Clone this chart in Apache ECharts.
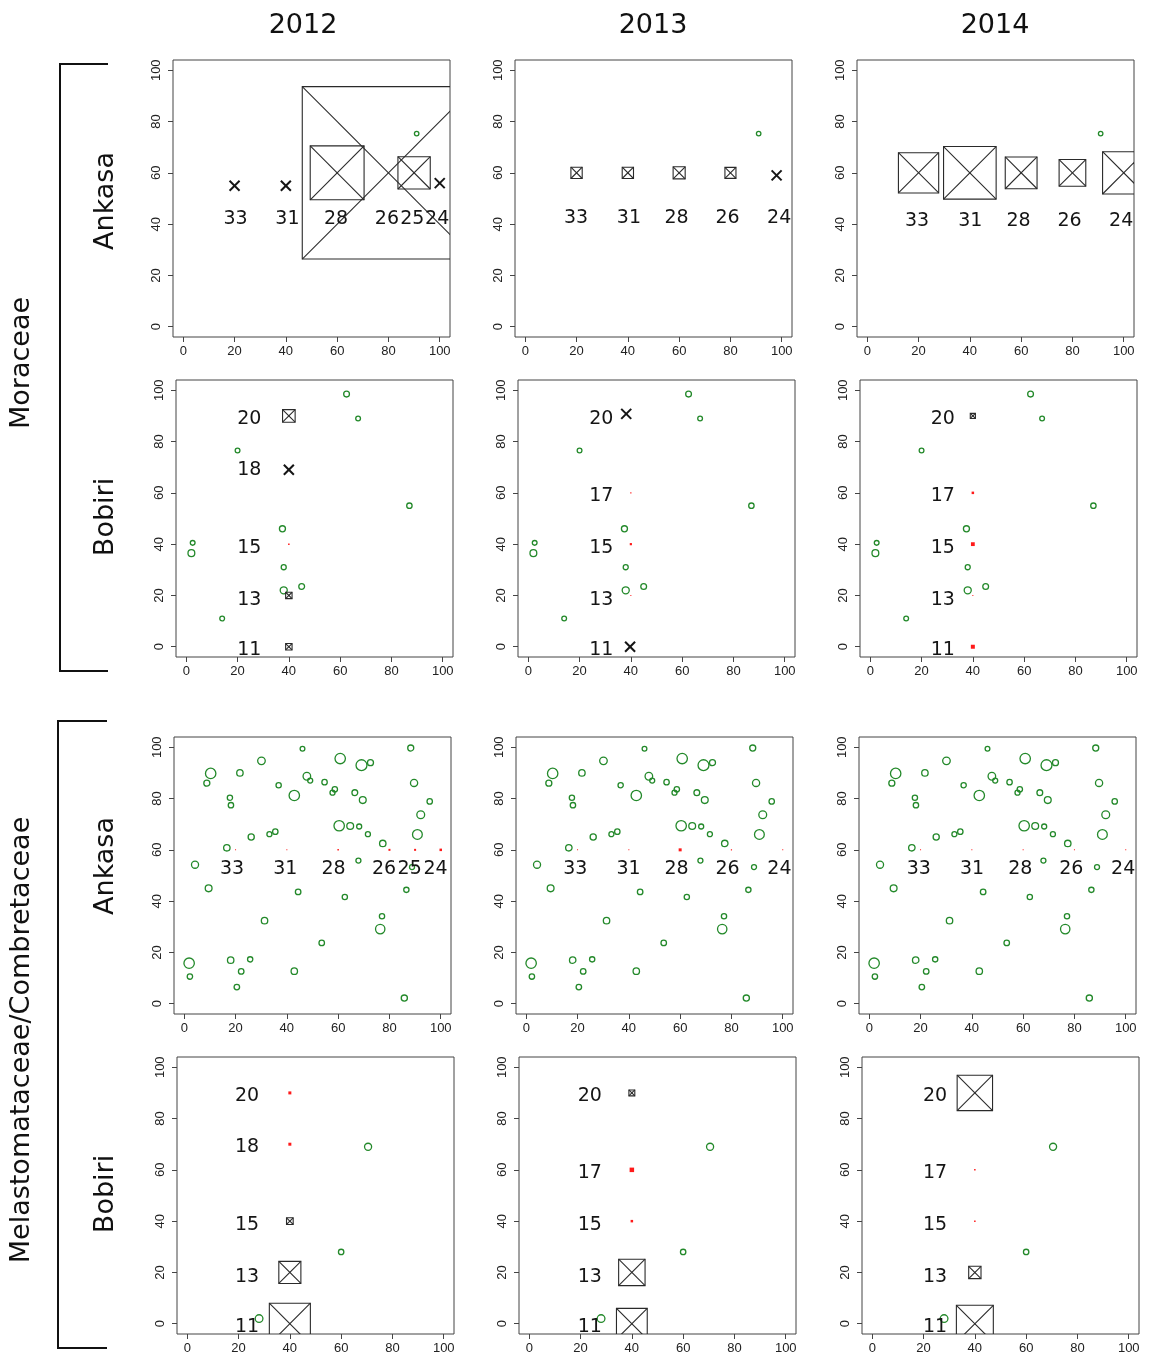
<!DOCTYPE html>
<html>
<head>
<meta charset="utf-8">
<script src="https://cdn.jsdelivr.net/npm/echarts/dist/echarts.min.js"></script>
<style>
html,body{margin:0;padding:0;background:#fff;}
#chart{width:1149px;height:1358px;}
</style>
</head>
<body>
<div id="chart"></div>
<script>
// ---------------- DATA ----------------
const years = ['2012', '2013', '2014'];
const siteNames = ['Ankasa', 'Bobiri', 'Ankasa', 'Bobiri'];
const families = ['Moraceae', 'Melastomataceae/Combretaceae'];
const tickValues = [0, 20, 40, 60, 80, 100];

// adult trees: [x, y, diameter (plot units)]
const moraAnkasaTrees = [[91, 75.3, 1.6]];
const moraBobiriTrees = [
  [62.5, 98.5, 2.1], [67, 89, 1.7], [20, 76.5, 1.7], [87, 55, 1.95], [37.5, 46, 2.2],
  [2.5, 40.5, 1.7], [2, 36.5, 2.5], [38, 31, 1.8], [38, 22, 2.6], [45, 23.5, 2.1], [14, 11, 1.7]
];
const melaAnkasaTrees = [
  [46.1, 99.4, 1.7], [88.3, 99.7, 2.2], [60.8, 95.6, 3.9], [69.1, 93.0, 4.1], [72.6, 94.0, 2.2],
  [30.1, 94.7, 2.8], [10.3, 89.8, 3.9], [21.7, 90.0, 2.35], [8.8, 86.0, 2.2], [47.8, 88.7, 2.8],
  [49.1, 87.0, 1.8], [36.8, 85.2, 1.9], [54.7, 86.4, 1.95], [89.6, 86.1, 2.65], [42.9, 81.2, 3.9],
  [58.7, 83.6, 1.95], [57.8, 82.3, 1.8], [66.5, 82.3, 2.1], [69.6, 79.4, 2.5], [17.8, 80.3, 1.9],
  [18.2, 77.4, 1.95], [95.7, 78.9, 1.95], [92.2, 73.7, 2.9], [60.4, 69.4, 3.9], [64.7, 69.3, 2.5],
  [68.2, 69.1, 1.8], [90.9, 66.0, 3.65], [71.6, 66.1, 1.8], [26.1, 65.0, 2.25], [33.2, 66.1, 1.8],
  [35.5, 67.1, 1.95], [77.4, 62.5, 2.35], [16.6, 60.8, 2.35], [4.2, 54.2, 2.6], [67.9, 55.8, 1.8],
  [88.8, 53.3, 1.8], [9.5, 45.0, 2.5], [44.4, 43.6, 2.0], [62.6, 41.6, 1.9], [86.6, 44.4, 1.9],
  [77.1, 34.1, 1.9], [76.4, 29.1, 3.5], [31.3, 32.4, 2.35], [53.6, 23.7, 2.0], [1.9, 15.8, 3.9],
  [18.1, 17.0, 2.35], [25.7, 17.3, 1.9], [22.2, 12.6, 2.0], [42.9, 12.7, 2.35], [2.2, 10.6, 1.95],
  [20.5, 6.5, 2.0], [85.8, 2.2, 2.25]
];
const melaBobiriTrees = [[70.5, 69, 2.6], [60, 28, 1.95], [28, 2, 2.85]];

// crossed boxes (seedling plots): [x, y, side (plot units)]
const moraAnk2012Boxes = [[60, 60, 21], [80, 60, 67.2], [90, 60, 12.6]];
const moraAnk2013Boxes = [[20, 60, 4.4], [40, 60, 4.4], [60, 60, 4.7], [80, 60, 4.3]];
const moraAnk2014Boxes = [[20, 60, 15.7], [40, 60, 20.5], [60, 60, 12.4], [80, 60, 10.4], [100, 60, 16.5]];
const moraBob2012Boxes = [[40, 90, 4.9], [40, 20, 2.5], [40, 0, 2.5]];
const moraBob2013Boxes = [];
const moraBob2014Boxes = [[40, 90, 2.0]];
const melaAnk2012Boxes = [];
const melaAnk2013Boxes = [];
const melaAnk2014Boxes = [];
const melaBob2012Boxes = [[40, 40, 2.6], [40, 20, 8.6], [40, 0, 16]];
const melaBob2013Boxes = [[40, 90, 2.3], [40, 20, 10.3], [40, 0, 12]];
const melaBob2014Boxes = [[40, 90, 13.8], [40, 20, 4.8], [40, 0, 14.4]];

// cross marks: [x, y]
const moraAnk2012Crosses = [[20, 55], [40, 55], [100, 56]];
const moraAnk2013Crosses = [[98, 59]];
const moraAnk2014Crosses = [];
const moraBob2012Crosses = [[40, 69]];
const moraBob2013Crosses = [[38.2, 90.8], [39.7, 0]];
const moraBob2014Crosses = [];
const melaAnk2012Crosses = [];
const melaAnk2013Crosses = [];
const melaAnk2014Crosses = [];
const melaBob2012Crosses = [];
const melaBob2013Crosses = [];
const melaBob2014Crosses = [];

// red squares: [x, y, magnitude]
const moraAnk2012Reds = [];
const moraAnk2013Reds = [];
const moraAnk2014Reds = [];
const moraBob2012Reds = [[40, 40, 1.5]];
const moraBob2013Reds = [[40, 60, 1.2], [40, 40, 2.2], [40, 20, 1]];
const moraBob2014Reds = [[40, 60, 2.5], [40, 40, 3.8], [40, 20, 1], [40, 0, 4]];
const melaAnk2012Reds = [[20, 60, 1], [40, 60, 1], [60, 60, 1.5], [80, 60, 2], [90, 60, 2], [100, 60, 2.5]];
const melaAnk2013Reds = [[20, 60, 1], [40, 60, 1], [60, 60, 3], [80, 60, 1.2], [100, 60, 1]];
const melaAnk2014Reds = [[20, 60, 1], [40, 60, 1], [60, 60, 1], [80, 60, 1], [100, 60, 1]];
const melaBob2012Reds = [[40, 90, 3], [40, 70, 3]];
const melaBob2013Reds = [[40, 60, 4.5], [40, 40, 2.5]];
const melaBob2014Reds = [[40, 60, 1.5], [40, 40, 1.5]];

// plot labels: [x, y, text]
const moraAnk2012Labels = [[20.4, 43, '33'], [40.6, 43, '31'], [59.6, 43, '28'], [79.4, 43, '26'], [89.3, 43, '25'], [99, 43, '24']];
const moraAnk2013Labels = [[19.8, 43.5, '33'], [40.4, 43.5, '31'], [59, 43.5, '28'], [78.9, 43.5, '26'], [99, 43.5, '24']];
const moraAnk2014Labels = [[19.4, 42.2, '33'], [40.2, 42.2, '31'], [59, 42.2, '28'], [78.9, 42.2, '26'], [99, 42.2, '24']];
const moraBob2012Labels = [[24.6, 90, '20'], [24.6, 70, '18'], [24.6, 39.5, '15'], [24.6, 19.5, '13'], [24.6, 0, '11']];
const moraBob2013Labels = [[28.5, 90, '20'], [28.5, 60, '17'], [28.5, 39.5, '15'], [28.5, 19.5, '13'], [28.5, 0, '11']];
const moraBob2014Labels = [[28.3, 90, '20'], [28.3, 60, '17'], [28.3, 39.5, '15'], [28.3, 19.5, '13'], [28.3, 0, '11']];
const melaAnk2012Labels = [[18.6, 53.6, '33'], [39.4, 53.6, '31'], [58.2, 53.6, '28'], [77.9, 53.6, '26'], [87.9, 53.6, '25'], [98, 53.6, '24']];
const melaAnk2013Labels = [[19.1, 53.6, '33'], [39.9, 53.6, '31'], [58.6, 53.6, '28'], [78.5, 53.6, '26'], [98.7, 53.6, '24']];
const melaAnk2014Labels = [[19.3, 53.6, '33'], [40.1, 53.6, '31'], [58.9, 53.6, '28'], [78.8, 53.6, '26'], [99, 53.6, '24']];
const melaBob2012Labels = [[23.3, 90, '20'], [23.3, 70, '18'], [23.3, 39.5, '15'], [23.3, 19.5, '13'], [23.3, 0, '11']];
const melaBob2013Labels = [[23.6, 90, '20'], [23.6, 60, '17'], [23.6, 39.5, '15'], [23.6, 19.5, '13'], [23.6, 0, '11']];
const melaBob2014Labels = [[24.5, 90, '20'], [24.5, 60, '17'], [24.5, 39.5, '15'], [24.5, 19.5, '13'], [24.5, 0, '11']];

// ---------------- PANELS ----------------
const panels = [
  {trees: moraAnkasaTrees, boxes: moraAnk2012Boxes, crosses: moraAnk2012Crosses, reds: moraAnk2012Reds, labels: moraAnk2012Labels},
  {trees: moraAnkasaTrees, boxes: moraAnk2013Boxes, crosses: moraAnk2013Crosses, reds: moraAnk2013Reds, labels: moraAnk2013Labels},
  {trees: moraAnkasaTrees, boxes: moraAnk2014Boxes, crosses: moraAnk2014Crosses, reds: moraAnk2014Reds, labels: moraAnk2014Labels},
  {trees: moraBobiriTrees, boxes: moraBob2012Boxes, crosses: moraBob2012Crosses, reds: moraBob2012Reds, labels: moraBob2012Labels},
  {trees: moraBobiriTrees, boxes: moraBob2013Boxes, crosses: moraBob2013Crosses, reds: moraBob2013Reds, labels: moraBob2013Labels},
  {trees: moraBobiriTrees, boxes: moraBob2014Boxes, crosses: moraBob2014Crosses, reds: moraBob2014Reds, labels: moraBob2014Labels},
  {trees: melaAnkasaTrees, boxes: melaAnk2012Boxes, crosses: melaAnk2012Crosses, reds: melaAnk2012Reds, labels: melaAnk2012Labels},
  {trees: melaAnkasaTrees, boxes: melaAnk2013Boxes, crosses: melaAnk2013Crosses, reds: melaAnk2013Reds, labels: melaAnk2013Labels},
  {trees: melaAnkasaTrees, boxes: melaAnk2014Boxes, crosses: melaAnk2014Crosses, reds: melaAnk2014Reds, labels: melaAnk2014Labels},
  {trees: melaBobiriTrees, boxes: melaBob2012Boxes, crosses: melaBob2012Crosses, reds: melaBob2012Reds, labels: melaBob2012Labels},
  {trees: melaBobiriTrees, boxes: melaBob2013Boxes, crosses: melaBob2013Crosses, reds: melaBob2013Reds, labels: melaBob2013Labels},
  {trees: melaBobiriTrees, boxes: melaBob2014Boxes, crosses: melaBob2014Crosses, reds: melaBob2014Reds, labels: melaBob2014Labels}
];

// ---------------- LAYOUT ----------------
const gridLefts = [[173, 515, 857], [176, 518, 860], [174, 516, 859], [177, 519, 862]];
const gridTops = [60, 380, 737, 1057];
const GRID_SIZE = 277;
const GREEN = '#23892a';
const INK = '#151515';
const FRAME = '#444';
const TEXT_DY = 3;

const grids = [], xAxes = [], yAxes = [], series = [];

function clipOf(params) {
  const cs = params.coordSys;
  return {type: 'rect', shape: {x: cs.x, y: cs.y, width: cs.width, height: cs.height}};
}

panels.forEach((p, i) => {
  const r = Math.floor(i / 3), c = i % 3;
  grids.push({left: gridLefts[r][c], top: gridTops[r], width: GRID_SIZE, height: GRID_SIZE,
    show: true, borderColor: FRAME, borderWidth: 1, backgroundColor: 'transparent'});
  const common = {
    gridIndex: i, type: 'value', min: -4, max: 104,
    axisLine: {show: false, onZero: false},
    splitLine: {show: false},
    axisTick: {show: true, length: 5, inside: false, customValues: tickValues, lineStyle: {color: FRAME, width: 1}},
  };
  xAxes.push(Object.assign({}, common, {
    position: 'bottom',
    axisLabel: {customValues: tickValues, fontSize: 13, fontFamily: 'Liberation Sans', color: '#222', margin: 8}
  }));
  yAxes.push(Object.assign({}, common, {
    position: 'left',
    axisLabel: {customValues: tickValues, fontSize: 13, fontFamily: 'Liberation Sans', color: '#222', margin: 10, rotate: 90}
  }));

  // adult trees (open circles)
  series.push({
    type: 'custom', xAxisIndex: i, yAxisIndex: i, data: p.trees, silent: true,
    encode: {x: 0, y: 1},
    renderItem: (params, api) => {
      const pt = api.coord([api.value(0), api.value(1)]);
      const s = api.size([api.value(2), api.value(2)]);
      return {type: 'circle', shape: {cx: pt[0], cy: pt[1], r: Math.max(1.8, s[0] / 2 + 0.2)},
        style: {fill: 'none', stroke: GREEN, lineWidth: 1.3}, clipPath: clipOf(params)};
    }
  });
  // crossed boxes
  series.push({
    type: 'custom', xAxisIndex: i, yAxisIndex: i, data: p.boxes, silent: true,
    encode: {x: 0, y: 1},
    renderItem: (params, api) => {
      const pt = api.coord([api.value(0), api.value(1)]);
      const s = api.size([api.value(2), api.value(2)]);
      const hw = s[0] / 2, hh = s[1] / 2;
      const st = {stroke: '#2a2a2a', lineWidth: 1.1, fill: 'none'};
      return {type: 'group', clipPath: clipOf(params), children: [
        {type: 'rect', shape: {x: pt[0] - hw, y: pt[1] - hh, width: 2 * hw, height: 2 * hh}, style: st},
        {type: 'line', shape: {x1: pt[0] - hw, y1: pt[1] - hh, x2: pt[0] + hw, y2: pt[1] + hh}, style: st},
        {type: 'line', shape: {x1: pt[0] - hw, y1: pt[1] + hh, x2: pt[0] + hw, y2: pt[1] - hh}, style: st}
      ]};
    }
  });
  // cross marks
  series.push({
    type: 'custom', xAxisIndex: i, yAxisIndex: i, data: p.crosses, silent: true,
    encode: {x: 0, y: 1},
    renderItem: (params, api) => {
      const pt = api.coord([api.value(0), api.value(1)]);
      const h = 5;
      const st = {stroke: INK, lineWidth: 2};
      return {type: 'group', children: [
        {type: 'line', shape: {x1: pt[0] - h, y1: pt[1] - h, x2: pt[0] + h, y2: pt[1] + h}, style: st},
        {type: 'line', shape: {x1: pt[0] - h, y1: pt[1] + h, x2: pt[0] + h, y2: pt[1] - h}, style: st}
      ]};
    }
  });
  // red squares
  series.push({
    type: 'scatter', xAxisIndex: i, yAxisIndex: i, data: p.reds, silent: true,
    symbol: 'rect', symbolSize: v => v[2], itemStyle: {color: '#ff1a1a', opacity: 1},
    animation: false
  });
  // text labels
  const labs = p.labels;
  series.push({
    type: 'custom', xAxisIndex: i, yAxisIndex: i, data: labs.map(d => [d[0], d[1]]), silent: true,
    encode: {x: 0, y: 1},
    renderItem: (params, api) => {
      const pt = api.coord([api.value(0), api.value(1)]);
      return {type: 'text', x: pt[0], y: pt[1] + TEXT_DY, style: {
        text: labs[params.dataIndex][2], fill: INK, fontSize: 19, fontFamily: 'DejaVu Sans',
        align: 'center', verticalAlign: 'middle'
      }};
    }
  });
});

// ---------------- DECORATION ----------------
const titleFont = {fontSize: 27, fontFamily: 'DejaVu Sans', fill: '#111'};
const graphics = [];
const colCenters = [303, 653, 995];
years.forEach((y, k) => graphics.push({type: 'text', x: colCenters[k], y: 26,
  style: Object.assign({text: y, align: 'center', verticalAlign: 'middle'}, titleFont)}));
const rowCenters = [201, 517, 866, 1194];
siteNames.forEach((s, k) => graphics.push({type: 'text', x: 106, y: rowCenters[k], rotation: Math.PI / 2,
  style: Object.assign({text: s, align: 'center', verticalAlign: 'middle'}, titleFont)}));
const famCenters = [363, 1040];
families.forEach((f, k) => graphics.push({type: 'text', x: 22, y: famCenters[k], rotation: Math.PI / 2,
  style: Object.assign({text: f, align: 'center', verticalAlign: 'middle'}, titleFont)}));
graphics.push({type: 'polyline', shape: {points: [[108, 64], [60, 64], [60, 671], [108, 671]]},
  style: {stroke: '#111', lineWidth: 2, fill: 'none'}});
graphics.push({type: 'polyline', shape: {points: [[107, 721], [58, 721], [58, 1348], [107, 1348]]},
  style: {stroke: '#111', lineWidth: 2, fill: 'none'}});

const chart = echarts.init(document.getElementById('chart'), null, {renderer: 'canvas'});
chart.setOption({
  animation: false,
  backgroundColor: '#fff',
  grid: grids,
  xAxis: xAxes,
  yAxis: yAxes,
  series: series,
  graphic: {elements: graphics}
});
</script>
</body>
</html>
